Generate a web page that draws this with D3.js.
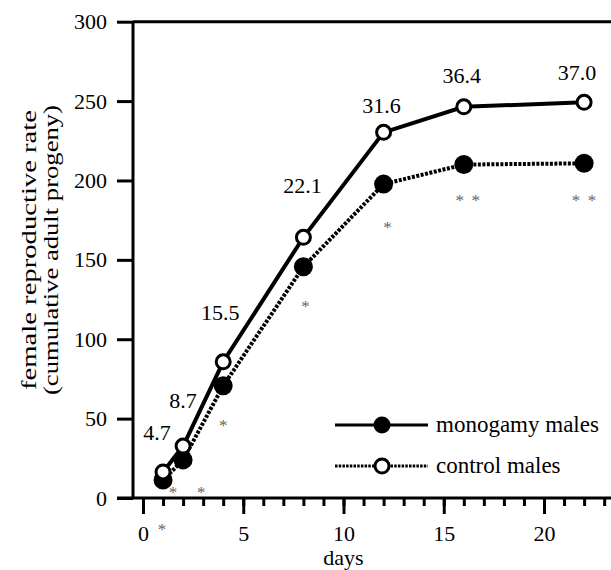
<!DOCTYPE html>
<html>
<head>
<meta charset="utf-8">
<script src="https://cdn.jsdelivr.net/npm/d3@7"></script>
<style>
  body { margin: 0; background: #fff; }
  svg text { font-family: 'Liberation Serif', 'DejaVu Serif', serif; fill: #000; }
</style>
</head>
<body>
<div id="container"></div>
<script>

// data
var days = [1, 2, 4, 8, 12, 16, 22];
var upperValues = [16.4, 32.7, 85.8, 164.2, 230.3, 246.4, 249.2];
var lowerValues = [11.3, 24.0, 70.7, 145.6, 197.7, 210.0, 210.8];
var rateLabels = ["4.7", "8.7", "15.5", "22.1", "31.6", "36.4", "37.0"];
var starDays = [1.5, 2.9, 0.95, 4.0, 8.1, 12.2, 15.8, 16.6, 21.6, 22.4];
var starValues = [5, 5, -18, 47, 122, 172, 189, 189, 189, 189];
var yTicks = [0, 50, 100, 150, 200, 250, 300];
var xMajor = [0, 5, 10, 15, 20];
var xMinor = d3.range(0, 24);
var legendNames = ["monogamy males", "control males"];
var yTitleLines = ["female reproductive rate", "(cumulative adult progeny)"];

// parameters
var width = 611,
    height = 570,
    serif = "'Liberation Serif', 'DejaVu Serif', serif";

var svg = d3.select("#container")
    .append("svg")
    .attr("width", width)
    .attr("height", height)
    .attr("font-family", serif);

var x = d3.scaleLinear().domain([0, 20]).range([143, 544]);
var y = d3.scaleLinear().domain([0, 300]).range([498, 21.7]);

// axes
var xMinorAxis = d3.axisBottom(x).tickValues(xMinor).tickSize(8).tickFormat("");
var xMajorAxis = d3.axisBottom(x).tickValues(xMajor).tickSize(16).tickPadding(11).tickFormat(d3.format("d"));
var yAxis = d3.axisLeft(y).tickValues(yTicks).tickSize(16).tickPadding(10).tickFormat(d3.format("d"));

function styleAxis(g) {
    g.attr("font-family", serif).attr("font-size", 22);
    g.select(".domain").remove();
    g.selectAll("line").attr("stroke", "#000").attr("stroke-width", 3);
}

svg.append("g").attr("transform", "translate(0," + y(0) + ")").call(xMinorAxis).call(styleAxis);
svg.append("g").attr("transform", "translate(0," + y(0) + ")").call(xMajorAxis).call(styleAxis);
svg.append("g").attr("transform", "translate(133,0)").call(yAxis).call(styleAxis);

// axis lines
svg.append("line")
    .attr("x1", 117).attr("x2", width)
    .attr("y1", y(0)).attr("y2", y(0))
    .attr("stroke", "#000").attr("stroke-width", 3);
svg.append("line")
    .attr("x1", 133).attr("x2", width)
    .attr("y1", y(300)).attr("y2", y(300))
    .attr("stroke", "#000").attr("stroke-width", 3);
svg.append("line")
    .attr("x1", 133).attr("x2", 133)
    .attr("y1", y(300)).attr("y2", y(0))
    .attr("stroke", "#000").attr("stroke-width", 3);

// axis titles
svg.append("text")
    .attr("x", x(10))
    .attr("y", 565)
    .attr("text-anchor", "middle")
    .attr("font-size", 22)
    .text("days");

// the y title is drawn stretched along its length, as in the reference
var titleStart = [390, 395],
    titleLen = [280, 290],
    titleBase = [36, 58];

svg.selectAll(".ytitle")
    .data(yTitleLines)
    .enter()
    .append("text")
    .attr("class", "ytitle")
    .attr("transform", function (d, i) { return "translate(" + titleBase[i] + "," + titleStart[i] + ") rotate(-90)"; })
    .attr("font-size", 22)
    .attr("textLength", function (d, i) { return titleLen[i]; })
    .attr("lengthAdjust", "spacingAndGlyphs")
    .text(function (d) { return d; });

// series
var lowerPts = days.map(function (d, i) { return [x(d), y(lowerValues[i])]; });
var upperPts = days.map(function (d, i) { return [x(d), y(upperValues[i])]; });
var line = d3.line();

svg.append("path")
    .attr("d", line(lowerPts))
    .attr("fill", "none")
    .attr("stroke", "#000")
    .attr("stroke-width", 4)
    .attr("stroke-dasharray", "3,1.5");

svg.append("path")
    .attr("d", line(upperPts))
    .attr("fill", "none")
    .attr("stroke", "#000")
    .attr("stroke-width", 4);

svg.selectAll(".lower")
    .data(lowerPts)
    .enter()
    .append("circle")
    .attr("class", "lower")
    .attr("cx", function (d) { return d[0]; })
    .attr("cy", function (d) { return d[1]; })
    .attr("r", 9.5)
    .attr("fill", "#000");

svg.selectAll(".upper")
    .data(upperPts)
    .enter()
    .append("circle")
    .attr("class", "upper")
    .attr("cx", function (d) { return d[0]; })
    .attr("cy", function (d) { return d[1]; })
    .attr("r", 7)
    .attr("fill", "#fff")
    .attr("stroke", "#000")
    .attr("stroke-width", 3);

// rate labels above the open circles
var labelOffset = [[-6, -40], [0, -46], [-3, -50], [-1, -52], [-2, -27], [-2, -32], [-7, -30]];

svg.selectAll(".rate")
    .data(rateLabels)
    .enter()
    .append("text")
    .attr("class", "rate")
    .attr("x", function (d, i) { return upperPts[i][0] + labelOffset[i][0]; })
    .attr("y", function (d, i) { return upperPts[i][1] + labelOffset[i][1] + 8; })
    .attr("text-anchor", "middle")
    .attr("font-size", 22)
    .text(function (d) { return d; });

// asterisks
svg.selectAll(".star")
    .data(starDays)
    .enter()
    .append("text")
    .attr("class", "star")
    .attr("x", function (d) { return x(d); })
    .attr("y", function (d, i) { return y(starValues[i]) + 8; })
    .attr("text-anchor", "middle")
    .attr("font-size", 17)
    .style("fill", "#666")
    .text("*");

// legend
var legend = svg.append("g");
var legendY = [425, 466];

legend.append("line")
    .attr("x1", 335).attr("x2", 428)
    .attr("y1", legendY[0]).attr("y2", legendY[0])
    .attr("stroke", "#000").attr("stroke-width", 3);
legend.append("circle")
    .attr("cx", 382).attr("cy", legendY[0]).attr("r", 8.5)
    .attr("fill", "#000");

legend.append("line")
    .attr("x1", 335).attr("x2", 428)
    .attr("y1", legendY[1]).attr("y2", legendY[1])
    .attr("stroke", "#000").attr("stroke-width", 3)
    .attr("stroke-dasharray", "2.5,1.2");
legend.append("circle")
    .attr("cx", 382).attr("cy", legendY[1]).attr("r", 7)
    .attr("fill", "#fff")
    .attr("stroke", "#000").attr("stroke-width", 3);

legend.selectAll(".lg")
    .data(legendNames)
    .enter()
    .append("text")
    .attr("class", "lg")
    .attr("x", 436)
    .attr("y", function (d, i) { return legendY[i] + 7; })
    .attr("font-size", 23)
    .text(function (d) { return d; });

</script>
</body>
</html>
